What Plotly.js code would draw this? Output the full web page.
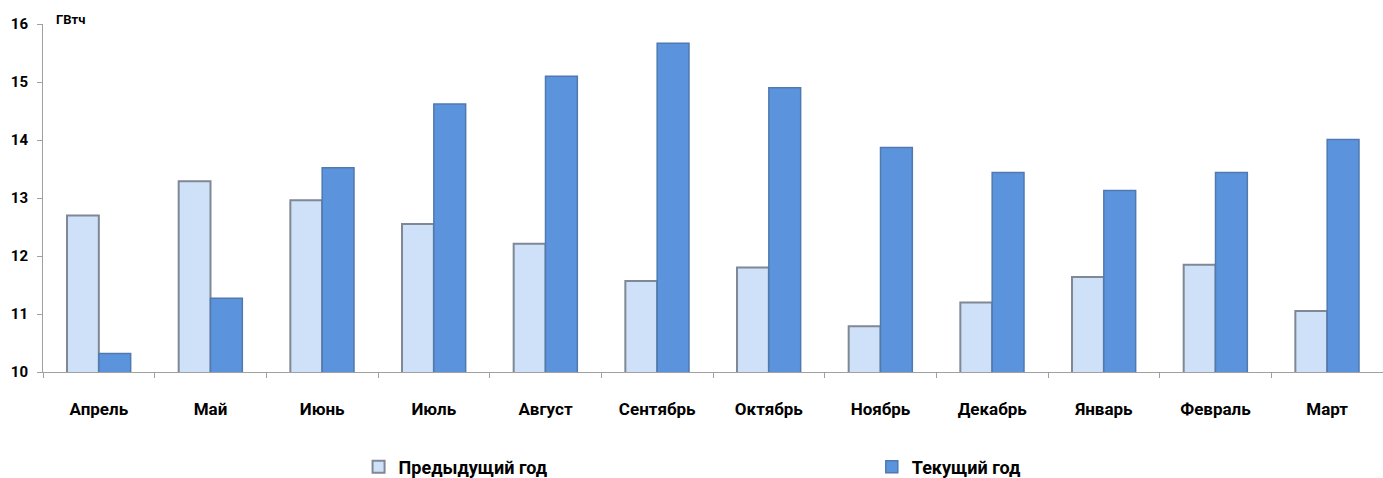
<!DOCTYPE html>
<html>
<head>
<meta charset="utf-8">
<script src="https://cdn.plot.ly/plotly-3.0.1.min.js"></script>
<style>html,body{margin:0;padding:0;background:#fff;}#chart{width:1383px;height:478px;}</style>
</head>
<body>
<div id="chart"></div>
<script>
const months = ["Апрель","Май","Июнь","Июль","Август","Сентябрь","Октябрь","Ноябрь","Декабрь","Январь","Февраль","Март"];
const prevYear = [12.70, 13.29, 12.96, 12.55, 12.21, 11.57, 11.80, 10.79, 11.20, 11.64, 11.85, 11.05];
const curYear  = [10.32, 11.27, 13.52, 14.62, 15.10, 15.67, 14.90, 13.87, 13.44, 13.13, 13.44, 14.01];
const seriesNames = ["Предыдущий год", "Текущий год"];
const yTicks = [10, 11, 12, 13, 14, 15, 16];
const unitLabel = "ГВтч";

const FONT = "Liberation Sans Narrow, Arial Narrow, Roboto, sans-serif";

const traces = [
  {
    type: "bar", name: seriesNames[0], x: months, y: prevYear, legend: "legend",
    marker: {color: "#cfe1f8", line: {color: "#7f8894", width: 2}}
  },
  {
    type: "bar", name: seriesNames[1], x: months, y: curYear, legend: "legend2",
    marker: {color: "#5b94dc", line: {color: "#5079b0", width: 1.5}}
  }
];

const legendCommon = {
  orientation: "h", xanchor: "left", y: -0.273, yanchor: "middle",
  font: {family: FONT, size: 18, color: "#000", weight: "bold"},
  bgcolor: "rgba(0,0,0,0)", itemclick: false
};

const layout = {
  width: 1383, height: 478,
  margin: {l: 43, r: 0, t: 24, b: 106, autoexpand: false},
  paper_bgcolor: "#ffffff", plot_bgcolor: "#ffffff",
  barmode: "group", bargap: 0.43, bargroupgap: 0,
  font: {family: FONT, color: "#000000"},
  showlegend: true,
  legend: Object.assign({}, legendCommon, {x: 0.2355}),
  legend2: Object.assign({}, legendCommon, {x: 0.6185}),
  xaxis: {
    type: "category", tickson: "boundaries", ticks: "outside", ticklen: 5,
    tickcolor: "#a0a0a0", showline: true, linecolor: "#a0a0a0", linewidth: 1,
    showgrid: false, zeroline: false, automargin: false,
    ticklabelstandoff: 22,
    tickfont: {family: FONT, size: 17, color: "#000", weight: "bold"},
    range: [-0.5, 11.5]
  },
  yaxis: {
    range: [10, 16], tickvals: yTicks, ticktext: yTicks.map(String),
    ticks: "outside", ticklen: 5, tickcolor: "#a0a0a0",
    showline: true, linecolor: "#a0a0a0", linewidth: 1,
    showgrid: false, zeroline: false, automargin: false,
    ticklabelstandoff: 6,
    tickfont: {family: FONT, size: 15, color: "#000", weight: "bold"}
  },
  annotations: [{
    text: unitLabel, xref: "paper", yref: "paper", x: 0.008, y: 1.012,
    xanchor: "left", yanchor: "middle", showarrow: false,
    font: {family: FONT, size: 13, color: "#000", weight: "bold"}
  }]
};

Plotly.newPlot("chart", traces, layout, {displayModeBar: false, staticPlot: true});
</script>
</body>
</html>
